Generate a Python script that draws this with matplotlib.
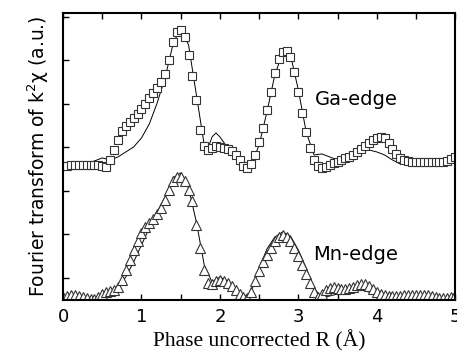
import numpy as np
import matplotlib
matplotlib.use("Agg")
import matplotlib.pyplot as plt

# Ga-edge experimental FT (squares), R step 0.05
r_data = np.round(np.arange(0, 5.0001, 0.05), 2)
ga_data = [134, 134, 135, 135, 135, 135, 135, 135, 135, 135,
           134, 133, 140, 150, 160, 169, 174, 178, 182, 186,
           191, 196, 202, 207, 212, 218, 226, 240, 258, 268,
           270, 263, 245, 224, 200, 170, 154, 150, 152, 154,
           153, 152, 151, 149, 145, 140, 134, 132, 136, 145,
           158, 172, 190, 208, 227, 241, 248, 249, 243, 228,
           208, 187, 168, 152, 140, 134, 132, 133, 135, 137,
           138, 140, 142, 143, 145, 148, 151, 154, 157, 160,
           162, 163, 162, 157, 151, 146, 142, 140, 139, 138,
           138, 138, 138, 138, 138, 138, 138, 138, 139, 141, 143]

# Mn-edge experimental FT (triangles)
mn_data = [3, 4, 5, 5, 4, 3, 2, 1, 1, 3,
           6, 8, 9, 10, 13, 20, 30, 40, 50, 59,
           67, 73, 77, 81, 86, 92, 100, 110, 119, 123,
           123, 119, 110, 99, 75, 52, 30, 17, 16, 19,
           20, 19, 17, 14, 10, 6, 3, 2, 8, 19,
           29, 38, 45, 52, 59, 63, 65, 63, 59, 52,
           44, 35, 26, 17, 8, 3, 6, 10, 12, 13,
           12, 11, 11, 12, 13, 15, 16, 16, 14, 11,
           8, 6, 5, 4, 4, 4, 4, 5, 5, 5,
           5, 5, 5, 5, 4, 3, 2, 2, 2, 3, 5]

# fits (thin lines)
r_ga_fit = [0.0, 0.1, 0.2, 0.3, 0.4, 0.5, 0.6, 0.7, 0.8, 0.9, 1.0, 1.1, 1.2, 1.3,
            1.4, 1.5, 1.6, 1.7, 1.8, 1.85, 1.9, 1.95, 2.0, 2.1, 2.2, 2.3, 2.4,
            2.5, 2.6, 2.7, 2.8, 2.9, 3.0, 3.1, 3.2, 3.3, 3.4, 3.5, 3.6, 3.7,
            3.8, 3.9, 4.0, 4.1, 4.2, 4.3, 4.4, 4.5, 4.6, 4.7, 4.8, 4.9, 5.0]
ga_fit = [134, 135, 135, 136, 139, 142, 140, 143, 148, 153, 162, 176, 197, 222,
          255, 273, 255, 205, 155, 152, 163, 167, 163, 152, 142, 134, 135,
          155, 188, 225, 247, 245, 210, 168, 145, 146, 143, 140, 143, 147,
          150, 150, 148, 145, 140, 136, 135, 135, 135, 136, 138, 140, 142]

r_mn_fit = np.round(np.arange(0, 5.0001, 0.1), 1)
mn_fit = [2, 3, 3, 1, 2, 6, 9, 13, 23, 38, 55, 72, 88, 103, 122, 127, 112, 78,
          35, 18, 23, 19, 10, 3, 8, 32, 51, 63, 68, 64, 50, 32, 12, 2, 4, 6,
          8, 9, 10, 8, 4, 2, 2, 2, 2, 2, 2, 2, 2, 2, 2]

fig = plt.figure(figsize=(4.57, 3.58), dpi=100)
ax = fig.add_axes([0.138, 0.162, 0.858, 0.802])

ax.plot(r_ga_fit, ga_fit, color="black", lw=0.7)
ax.plot(r_data, ga_data, ls="none", marker="s", ms=6, mfc="white",
        mec="#333333", mew=0.8)
ax.plot(r_mn_fit, mn_fit, color="black", lw=0.7)
ax.plot(r_data, mn_data, ls="none", marker="^", ms=6.5, mfc="white",
        mec="#333333", mew=0.8)

ax.text(3.21, 200, "Ga-edge", fontsize=14, va="center")
ax.text(3.19, 45, "Mn-edge", fontsize=14, va="center")

ax.set_xlim(0, 5)
ax.set_ylim(0, 287)
ax.set_xticks([0, 1, 2, 3, 4, 5])
ax.set_xticks(np.arange(0, 5.01, 0.5), minor=True)
ax.set_yticks(np.arange(22, 287, 43.5))
ax.set_yticklabels([])
ax.tick_params(axis="x", which="both", direction="in", top=True, length=4,
               width=1, labelsize=13, pad=6)
ax.tick_params(axis="y", direction="in", length=4, width=1)
for s in ax.spines.values():
    s.set_linewidth(1.5)

ax.set_ylabel("Fourier transform of k$^2$χ (a.u.)", fontsize=13.5, labelpad=5)
ax.set_xlabel("Phase uncorrected R (Å)", family="Liberation Serif", fontsize=15.5,
              labelpad=3)

fig.savefig("out.png", dpi=100)
